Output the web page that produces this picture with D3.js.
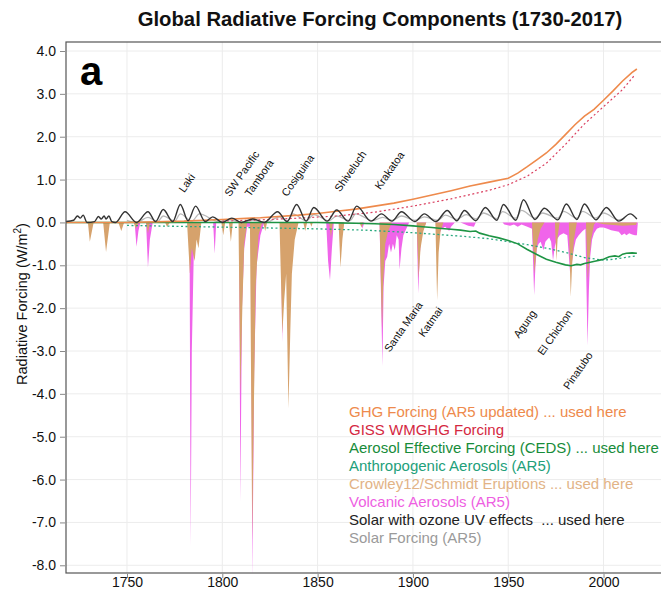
<!DOCTYPE html>
<html><head><meta charset="utf-8">
<script src="https://cdn.jsdelivr.net/npm/d3@7"></script>
<style>
body{margin:0;background:#fff}
svg{display:block}
text{font-family:"Liberation Sans", Arial, Helvetica, sans-serif}
</style>
</head><body>
<svg id="chart" width="661" height="593"></svg>
<script>
// ---------------- DATA ----------------
const xTickValues = [1750, 1800, 1850, 1900, 1950, 2000];
const yTickValues = [4, 3, 2, 1, 0, -1, -2, -3, -4, -5, -6, -7, -8];

// GHG Forcing (AR5 updated) ... used here
const ghgForcing = [[1718,0.0],[1750,0.0],[1780,0.03],[1800,0.07],[1820,0.11],[1840,0.17],[1850,0.21],[1860,0.26],[1870,0.31],[1880,0.38],[1890,0.45],[1900,0.54],[1910,0.64],[1920,0.74],[1930,0.85],[1940,0.94],[1950,1.03],[1955,1.15],[1960,1.3],[1965,1.46],[1970,1.62],[1975,1.82],[1980,2.05],[1985,2.28],[1990,2.48],[1995,2.64],[2000,2.85],[2005,3.07],[2010,3.3],[2015,3.5],[2017.5,3.58]];

// GISS WMGHG Forcing
const gissWmghg = [[1800,0.03],[1820,0.06],[1840,0.1],[1860,0.15],[1880,0.24],[1900,0.38],[1920,0.55],[1940,0.75],[1950,0.88],[1960,1.08],[1970,1.38],[1980,1.82],[1990,2.3],[2000,2.7],[2010,3.1],[2016,3.42]];

// Aerosol Effective Forcing (CEDS) ... used here
const aerosolCeds = [[1718,0],[1850,0.0],[1860,-0.01],[1870,-0.02],[1880,-0.03],[1890,-0.05],[1900,-0.08],[1905,-0.1],[1910,-0.12],[1915,-0.14],[1920,-0.16],[1925,-0.18],[1930,-0.21],[1933,-0.2],[1935,-0.25],[1940,-0.31],[1945,-0.36],[1950,-0.42],[1955,-0.5],[1960,-0.63],[1965,-0.75],[1970,-0.86],[1975,-0.93],[1980,-0.99],[1983,-1.01],[1986,-0.98],[1988,-0.99],[1990,-0.96],[1993,-0.93],[1996,-0.9],[1998,-0.88],[2000,-0.86],[2003,-0.8],[2006,-0.78],[2008,-0.8],[2010,-0.74],[2012,-0.72],[2015,-0.71],[2017.5,-0.72]];

// Anthropogenic Aerosols (AR5)
const aerosolAr5 = [[1750,-0.07],[1775,-0.09],[1800,-0.11],[1825,-0.13],[1850,-0.15],[1875,-0.18],[1900,-0.24],[1925,-0.32],[1940,-0.38],[1950,-0.45],[1960,-0.52],[1970,-0.6],[1980,-0.7],[1990,-0.82],[2000,-0.88],[2005,-0.86],[2011,-0.82],[2017,-0.78]];

// Crowley12/Schmidt Eruptions ... used here
const crowleyVolcanic = [[1718,0],[1729.5,0],[1730.5,-0.45],[1732.5,0],[1737.5,0],[1739,-0.69],[1741,0],[1745.5,0],[1747,-0.2],[1748.5,0],[1753.5,0],[1754.7,-0.15],[1756,0],[1760,0],[1761,-0.25],[1762,0],[1770,0],[1771,-0.1],[1772.5,0],[1781.5,0],[1783,-1.2],[1784,-0.6],[1785.5,-0.9],[1786.5,-0.4],[1787.5,-0.6],[1789,0],[1799.5,0],[1800.5,-0.3],[1801.5,0],[1803.5,0],[1804.5,-0.45],[1805.5,0],[1808.5,0],[1809.5,-4.0],[1810.5,-2.0],[1811.5,-0.5],[1813,0],[1814.5,0],[1815.7,-7.4],[1816.5,-4.5],[1817.5,-1.5],[1819,-0.3],[1821,0],[1821.5,0],[1822.5,-0.2],[1823.5,0],[1830,0],[1831.5,-2.6],[1832.5,-1.8],[1833.5,-1.2],[1834.7,-4.35],[1835.7,-2.5],[1836.5,-1.2],[1838,-0.4],[1840,0],[1842.5,0],[1843.5,-0.2],[1844.5,0],[1846,0],[1846.7,-0.1],[1847.5,0],[1856,0],[1857,-0.35],[1858,0],[1861,0],[1862,-1.05],[1863,-0.4],[1864,0],[1872,0],[1873,-0.12],[1874,0],[1882.5,0],[1883.8,-2.5],[1884.5,-1.3],[1885.5,-0.5],[1887,-0.2],[1889,0],[1902,0],[1903,-1.3],[1904,-0.6],[1905.5,-0.2],[1907,0],[1911.8,0],[1912.7,-1.82],[1913.5,-0.7],[1914.5,-0.2],[1916,0],[1962.5,0],[1963.8,-1.2],[1964.5,-0.8],[1965.5,-0.4],[1967,-0.15],[1969,0],[1974.5,0],[1975.3,-0.9],[1976,-0.3],[1977,0],[1981.8,0],[1982.8,-1.74],[1983.5,-1.0],[1984.5,-0.4],[1986,0],[1990.8,0],[1991.7,-1.35],[1992.5,-0.9],[1993.5,-0.4],[1995,-0.05],[1996,0],[2000,-0.04],[2005,-0.06],[2010,-0.08],[2017,-0.06],[2017.5,0]];

// Volcanic Aerosols (AR5)
const ar5Volcanic = [[1750,0],[1754,0],[1755,-0.57],[1756,-0.2],[1757,0],[1760,0],[1761,-1.05],[1762,-0.4],[1763.5,0],[1782.8,0],[1783.4,-7.55],[1784,-3.0],[1785,-0.8],[1786,-0.2],[1787,0],[1795.2,0],[1796,-0.73],[1796.8,0],[1808.8,0],[1809.5,-6.5],[1810.3,-2.0],[1811.5,-0.6],[1813,-0.1],[1815,-0.1],[1815.8,-8.3],[1816.7,-3.5],[1818,-1.0],[1820,-0.3],[1822,0],[1830.8,0],[1831.4,-2.8],[1832.2,-1.0],[1833.5,-0.4],[1835,-1.8],[1836,-0.6],[1838,0],[1854.5,0],[1855.5,-0.9],[1856.5,-1.35],[1857.5,-0.6],[1858.5,0],[1861.5,0],[1862,-0.6],[1863,0],[1873,0],[1873.5,-0.15],[1874.5,0],[1882.5,0],[1884,-3.35],[1884.6,-1.5],[1885.5,-0.9],[1886.5,-0.8],[1887.5,-0.5],[1888.5,-0.7],[1889.5,-0.5],[1890.5,-0.65],[1891.5,-0.3],[1892.5,-0.4],[1893,-1.1],[1894,-0.6],[1895,-0.3],[1896,-0.2],[1897,-0.1],[1898,0],[1902,0],[1902.8,-1.66],[1903.5,-0.8],[1904.5,-0.3],[1906,-0.1],[1907,0],[1912,0],[1912.8,-0.7],[1913.6,-0.3],[1915,-0.15],[1917,-0.1],[1919,-0.2],[1920,-0.1],[1922,0],[1925,0],[1929,-0.08],[1932,-0.1],[1933,0],[1947,0],[1948,-0.05],[1951,-0.08],[1953,-0.05],[1955,-0.1],[1957,-0.05],[1960,-0.1],[1962.5,-0.15],[1963.6,-1.7],[1964.3,-1.0],[1965,-0.6],[1966,-0.5],[1967,-0.45],[1968.5,-0.65],[1969.5,-0.45],[1970.5,-0.4],[1971.5,-0.35],[1972.5,-0.45],[1973.5,-0.88],[1974.5,-0.55],[1975.5,-0.4],[1977,-0.3],[1979,-0.25],[1981,-0.3],[1982.5,-1.2],[1983.5,-0.9],[1984.5,-0.6],[1985.5,-0.4],[1987,-0.3],[1989,-0.2],[1990.5,-0.15],[1991.6,-2.87],[1992.3,-1.6],[1993,-0.8],[1994,-0.4],[1995,-0.25],[1996.5,-0.15],[1998,-0.12],[2000,-0.12],[2002,-0.15],[2004,-0.18],[2006,-0.2],[2008,-0.22],[2009.5,-0.3],[2011,-0.26],[2012,-0.3],[2013.5,-0.25],[2015,-0.28],[2016.5,-0.3],[2017.5,-0.3],[2018,0]];

// Solar with ozone UV effects ... used here
const solarOzone = [[1718,0.02],[1722,0.05],[1724,0.15],[1725.5,0.1],[1727,0.17],[1729,0.0],[1733,0.02],[1735,0.14],[1736.5,0.08],[1738,0.15],[1739,0.08],[1740.5,0.15],[1742,0.02],[1744,0.0],[1749,0.25],[1755,0.0],[1761,0.25],[1765,0.02],[1769,0.3],[1774,0.02],[1778,0.42],[1782,0.04],[1786,0.38],[1791,0.02],[1795,0.13],[1800,0.0],[1805,0.1],[1810,0.0],[1816,0.08],[1822,0.0],[1829,0.25],[1834,0.02],[1839,0.42],[1844,0.03],[1848,0.35],[1855,0.03],[1860,0.29],[1866,0.03],[1870.5,0.38],[1878,0.03],[1883.5,0.2],[1889,0.03],[1894,0.25],[1901,0.02],[1906,0.2],[1912,0.02],[1918,0.28],[1923,0.04],[1927,0.28],[1933,0.04],[1938,0.35],[1944,0.05],[1947.5,0.42],[1954,0.05],[1958,0.53],[1964,0.07],[1969,0.33],[1976,0.06],[1980.5,0.43],[1986,0.07],[1990,0.43],[1996,0.06],[2001.5,0.35],[2008,0.03],[2014,0.2],[2017.5,0.08]];

// Solar Forcing (AR5)
const solarAr5 = [[1750,0.05],[1755,0.0],[1761,0.12],[1766,0.02],[1769,0.15],[1775,0.03],[1778,0.2],[1784,0.03],[1788,0.2],[1798,0.02],[1804,0.06],[1810,0.0],[1816,0.05],[1823,0.0],[1830,0.13],[1834,0.03],[1837,0.2],[1844,0.04],[1848,0.18],[1856,0.04],[1860,0.15],[1867,0.04],[1870,0.2],[1879,0.04],[1884,0.12],[1889,0.05],[1894,0.15],[1901,0.05],[1906,0.13],[1913,0.05],[1917,0.17],[1923,0.07],[1928,0.18],[1933,0.08],[1937,0.22],[1944,0.09],[1947,0.25],[1954,0.1],[1957,0.28],[1964,0.1],[1968,0.22],[1976,0.1],[1979,0.26],[1986,0.1],[1989,0.26],[1996,0.1],[2000,0.22],[2008,0.06],[2011,0.1]];

const topVolcanoNames = ["Laki", "SW Pacific", "Tambora", "Cosiguina", "Shiveluch", "Krakatoa"];
const topVolcanoYears = [1780, 1804, 1814.6, 1834, 1861.8, 1882.8];
const topVolcanoValues = [0.68, 0.59, 0.59, 0.59, 0.70, 0.75];
const lowVolcanoNames = ["Santa Maria", "Katmai", "Agung", "El Chichon", "Pinatubo"];
const lowVolcanoYears = [1905.4, 1915.9, 1965, 1984, 1994.6];
const lowVolcanoValues = [-1.93, -2.05, -2.12, -2.12, -3.10];

const legendLabels = ["GHG Forcing (AR5 updated) ... used here", "GISS WMGHG Forcing", "Aerosol Effective Forcing (CEDS) ... used here", "Anthropogenic Aerosols (AR5)", "Crowley12/Schmidt Eruptions ... used here", "Volcanic Aerosols (AR5)", "Solar with ozone UV effects  ... used here", "Solar Forcing (AR5)"];
const legendColors = ["#EE8A4C", "#D4283F", "#178C3A", "#22A07A", "#E2B386", "#EE5FE2", "#222222", "#9A9A9A"];

// ---------------- CHART ----------------
const svg = d3.select("#chart");
const L = 66, R = 663, T = 42, B = 573;
const x = d3.scaleLinear().domain([1718, 2031.2]).range([L, R]);
const y = d3.scaleLinear().domain([-8.18, 4.21]).range([B, T]);

// title
svg.append("text").attr("x", 380).attr("y", 26).attr("text-anchor", "middle")
  .attr("font-size", 20.3).attr("font-weight", "bold").attr("fill", "#111")
  .text("Global Radiative Forcing Components (1730-2017)");

// gridlines
const grid = svg.append("g");
grid.selectAll("line.v").data(xTickValues.concat([2050])).enter().append("line")
  .attr("x1", d => x(d)).attr("x2", d => x(d)).attr("y1", T).attr("y2", B)
  .attr("stroke", "#ececec").attr("stroke-width", 1);
grid.selectAll("line.h").data(yTickValues).enter().append("line")
  .attr("x1", L).attr("x2", R).attr("y1", d => y(d)).attr("y2", d => y(d))
  .attr("stroke", "#ececec").attr("stroke-width", 1);

svg.append("defs").append("clipPath").attr("id", "clip")
  .append("rect").attr("x", L).attr("y", T).attr("width", R - L).attr("height", B - T);
const plot = svg.append("g").attr("clip-path", "url(#clip)");

const area = d3.area().x(d => x(d[0])).y0(y(0)).y1(d => y(d[1]));
const line = d3.line().x(d => x(d[0])).y(d => y(d[1]));
const smoothLine = d3.line().x(d => x(d[0])).y(d => y(d[1])).curve(d3.curveMonotoneX);

plot.append("path").datum(ar5Volcanic).attr("d", area).attr("fill", "#F064EA");
plot.append("path").datum(crowleyVolcanic).attr("d", area).attr("fill", "#D6A26C");

plot.append("path").datum(solarAr5).attr("d", smoothLine).attr("fill", "none")
  .attr("stroke", "#b8b8b8").attr("stroke-width", 1.3);
plot.append("path").datum(aerosolAr5).attr("d", line).attr("fill", "none")
  .attr("stroke", "#2BAA80").attr("stroke-width", 1.3).attr("stroke-dasharray", "2,2.5");
plot.append("path").datum(aerosolCeds).attr("d", line).attr("fill", "none")
  .attr("stroke", "#1E9444").attr("stroke-width", 1.6);
plot.append("path").datum(gissWmghg).attr("d", line).attr("fill", "none")
  .attr("stroke", "#DA4060").attr("stroke-width", 1.2).attr("stroke-dasharray", "2,2.5");
plot.append("path").datum(ghgForcing).attr("d", line).attr("fill", "none")
  .attr("stroke", "#EE8A4C").attr("stroke-width", 1.6);
plot.append("path").datum(solarOzone).attr("d", smoothLine).attr("fill", "none")
  .attr("stroke", "#333").attr("stroke-width", 1.4);

// frame
svg.append("rect").attr("x", L).attr("y", T).attr("width", R - L).attr("height", B - T)
  .attr("fill", "none").attr("stroke", "#555").attr("stroke-width", 1.2);

// axes
const yAxis = svg.append("g").attr("transform", `translate(${L - 1},0)`)
  .call(d3.axisLeft(y).tickValues(yTickValues).tickFormat(d => d.toFixed(1)).tickSize(5).tickPadding(4));
yAxis.select(".domain").remove();
yAxis.selectAll(".tick line").attr("stroke", "#888");
yAxis.selectAll("text").attr("font-size", 14).attr("fill", "#111")
  .style("font-family", "'Liberation Sans', Arial, sans-serif");

const xAxis = svg.append("g").attr("transform", `translate(0,${B + 1})`)
  .call(d3.axisBottom(x).tickValues(xTickValues).tickFormat(d3.format("d")).tickSize(4).tickPadding(3));
xAxis.select(".domain").remove();
xAxis.selectAll(".tick line").attr("stroke", "#888");
xAxis.selectAll("text").attr("font-size", 14).attr("fill", "#111")
  .attr("y", 13).attr("dy", null)
  .style("font-family", "'Liberation Sans', Arial, sans-serif");

// y axis label
const yl = svg.append("text").attr("transform", "translate(27,304) rotate(-90)")
  .attr("text-anchor", "middle").attr("font-size", 14.5).attr("fill", "#111");
yl.append("tspan").text("Radiative Forcing (W/m");
yl.append("tspan").attr("dy", -6).attr("font-size", 10).text("2");
yl.append("tspan").attr("dy", 6).text(")");

// panel letter
svg.append("text").attr("x", 80).attr("y", 85).attr("font-size", 40)
  .attr("font-weight", "bold").attr("fill", "#000").text("a");

// volcano labels
svg.selectAll("text.vtop").data(topVolcanoNames).enter().append("text")
  .attr("transform", (d, i) => `translate(${x(topVolcanoYears[i])},${y(topVolcanoValues[i])}) rotate(-55)`)
  .attr("font-size", 10.8).attr("fill", "#111").attr("text-anchor", "start").text(d => d);
svg.selectAll("text.vlow").data(lowVolcanoNames).enter().append("text")
  .attr("transform", (d, i) => `translate(${x(lowVolcanoYears[i])},${y(lowVolcanoValues[i])}) rotate(-55)`)
  .attr("font-size", 10.8).attr("fill", "#111").attr("text-anchor", "end").text(d => d);

// legend
svg.selectAll("text.leg").data(legendLabels).enter().append("text")
  .attr("x", 349).attr("y", (d, i) => 417 + i * 18)
  .attr("font-size", 15).attr("fill", (d, i) => legendColors[i])
  .attr("xml:space", "preserve").style("white-space", "pre").text(d => d);
</script>
</body></html>
